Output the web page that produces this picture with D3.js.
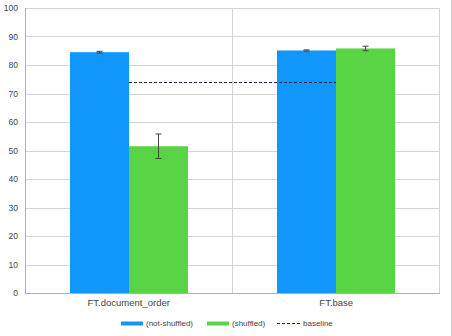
<!DOCTYPE html>
<html>
<head>
<meta charset="utf-8">
<script src="https://cdn.jsdelivr.net/npm/d3@7"></script>
<style>
  body { margin: 0; background: #fff; }
  svg { display: block; font-family: "Liberation Sans", Arial, sans-serif; }
</style>
</head>
<body>
<div id="graph"></div>
<script>
// data
const categories = ['FT.document_order', 'FT.base'];
const seriesNames = ['(not-shuffled)', '(shuffled)'];
const notShuffled = [84.5, 85.1];
const notShuffledErr = [0.3, 0.2];
const shuffled = [51.5, 85.8];
const shuffledErr = [4.3, 0.8];
const baseline = [74.1, 74.1];
const yTicks = [0, 10, 20, 30, 40, 50, 60, 70, 80, 90, 100];

const colors = ['#1196fa', '#58d444'];

let margin = { top: 8, right: 12, bottom: 43, left: 25 },
  width = 452 - margin.left - margin.right,
  height = 336 - margin.top - margin.bottom;

let svg = d3.select('#graph').append('svg')
  .attr('width', 452)
  .attr('height', 336);

// outer right edge line
svg.append('line')
  .attr('x1', 451.5).attr('x2', 451.5)
  .attr('y1', 0).attr('y2', 336)
  .attr('stroke', '#d0d0d0');

let vis = svg.append('g')
  .attr('transform', 'translate(' + margin.left + ',' + margin.top + ')');

let xScale = d3.scaleBand().domain(categories).range([0, width]);
let yScale = d3.scaleLinear().domain([0, 100]).range([height, 0]);
let barW = Math.round(xScale.bandwidth() * 0.284);

// grid
vis.selectAll('.grid')
  .data(yTicks.filter((d) => d > 0))
  .join('line')
  .attr('x1', 0).attr('x2', width)
  .attr('y1', (d) => Math.round(yScale(d)) + 0.5)
  .attr('y2', (d) => Math.round(yScale(d)) + 0.5)
  .attr('stroke', '#d3d3d3');

// right border + category divider
vis.selectAll('.vgrid')
  .data([xScale.bandwidth(), width])
  .join('line')
  .attr('x1', (d) => Math.round(d) - 0.5).attr('x2', (d) => Math.round(d) - 0.5)
  .attr('y1', 0).attr('y2', height)
  .attr('stroke', '#d3d3d3');

// bars
let series = [notShuffled, shuffled];
let errs = [notShuffledErr, shuffledErr];
series.forEach((vals, s) => {
  let xPos = (i) => Math.round(xScale(categories[i]) + xScale.bandwidth() / 2) + (s - 1) * barW;
  vis.selectAll('.bar' + s)
    .data(vals)
    .join('rect')
    .attr('x', (d, i) => xPos(i))
    .attr('y', (d) => yScale(d))
    .attr('width', barW)
    .attr('height', (d) => height - yScale(d))
    .attr('fill', colors[s]);

  // error bars
  let eg = vis.selectAll('.err' + s)
    .data(vals)
    .join('g')
    .attr('stroke', '#444')
    .attr('stroke-width', 1);
  let cx = (i) => xPos(i) + Math.floor(barW / 2) + 0.5;
  eg.append('line')
    .attr('x1', (d, i) => cx(i))
    .attr('x2', (d, i) => cx(i))
    .attr('y1', (d, i) => yScale(d + errs[s][i]))
    .attr('y2', (d, i) => yScale(d - errs[s][i]));
  eg.append('line')
    .attr('x1', (d, i) => cx(i) - 3)
    .attr('x2', (d, i) => cx(i) + 3)
    .attr('y1', (d, i) => yScale(d + errs[s][i]))
    .attr('y2', (d, i) => yScale(d + errs[s][i]));
  eg.append('line')
    .attr('x1', (d, i) => cx(i) - 3)
    .attr('x2', (d, i) => cx(i) + 3)
    .attr('y1', (d, i) => yScale(d - errs[s][i]))
    .attr('y2', (d, i) => yScale(d - errs[s][i]));
});

// baseline
let line = d3.line()
  .x((d, i) => Math.round(xScale(categories[i]) + xScale.bandwidth() / 2))
  .y((d) => Math.round(yScale(d)) + 0.5);
vis.append('path')
  .datum(baseline)
  .attr('d', line)
  .attr('fill', 'none')
  .attr('stroke', '#1a1f4a')
  .attr('stroke-width', 1)
  .attr('stroke-dasharray', '3,2');

// axes
vis.append('line')
  .attr('x1', 0.5).attr('x2', 0.5)
  .attr('y1', 0).attr('y2', height)
  .attr('stroke', '#b0b0b0');
vis.append('line')
  .attr('x1', 0).attr('x2', width)
  .attr('y1', height + 0.5).attr('y2', height + 0.5)
  .attr('stroke', '#b0b0b0');

vis.selectAll('.ytick')
  .data(yTicks)
  .join('text')
  .attr('x', -7)
  .attr('y', (d) => yScale(d) + 3)
  .attr('text-anchor', 'end')
  .attr('font-size', 8.5)
  .attr('fill', '#444')
  .text((d) => d);

vis.selectAll('.xtick')
  .data(categories)
  .join('text')
  .attr('x', (d) => xScale(d) + xScale.bandwidth() / 2)
  .attr('y', height + 13)
  .attr('text-anchor', 'middle')
  .attr('font-size', 9.5)
  .attr('fill', '#444')
  .text((d) => d);

// legend
let legendItems = [
  { name: seriesNames[0], type: 'bar', color: colors[0], x: 121 },
  { name: seriesNames[1], type: 'bar', color: colors[1], x: 207 },
  { name: 'baseline', type: 'line', color: '#1a1f4a', x: 277 }
];
let lg = svg.append('g').selectAll('g')
  .data(legendItems)
  .join('g')
  .attr('transform', (d) => 'translate(' + d.x + ',323)');
lg.filter((d) => d.type === 'bar').append('rect')
  .attr('x', 0).attr('y', -1.5)
  .attr('width', 22).attr('height', 4)
  .attr('fill', (d) => d.color);
lg.filter((d) => d.type === 'line').append('line')
  .attr('x1', 0).attr('x2', 23)
  .attr('y1', 0.5).attr('y2', 0.5)
  .attr('stroke', (d) => d.color)
  .attr('stroke-dasharray', '3,2');
lg.append('text')
  .attr('x', (d) => (d.type === 'bar' ? 25 : 26))
  .attr('y', 3)
  .attr('font-size', 8)
  .attr('fill', '#444')
  .text((d) => d.name);
</script>
</body>
</html>
